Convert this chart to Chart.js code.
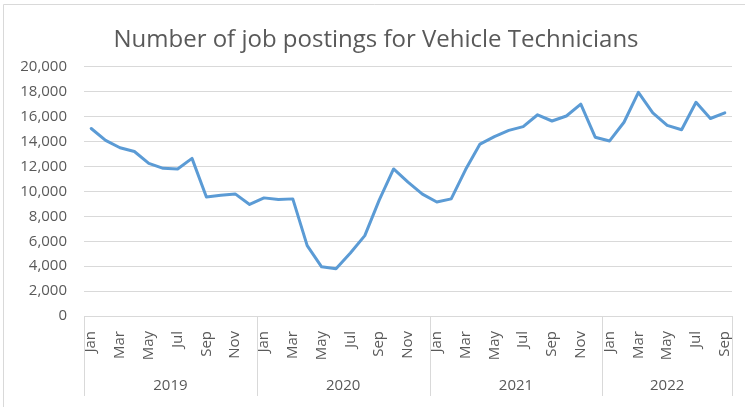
<!DOCTYPE html>
<html>
<head>
<meta charset="utf-8">
<script src="https://cdn.jsdelivr.net/npm/chart.js@4"></script>
<style>
  html, body { margin: 0; padding: 0; background: #fff; }
  #wrap { position: relative; width: 745px; height: 407px; }
</style>
</head>
<body>
<div id="wrap"><canvas id="chart1"></canvas></div>
<script>
const monthNames = ['Jan', 'Feb', 'Mar', 'Apr', 'May', 'Jun', 'Jul', 'Aug', 'Sep', 'Oct', 'Nov', 'Dec'];
const years = ['2019', '2020', '2021', '2022'];
const monthsPerYear = [12, 12, 12, 9];

const postings2019 = [15050, 14100, 13500, 13200, 12250, 11850, 11800, 12650, 9550, 9700, 9800, 8950];
const postings2020 = [9480, 9350, 9400, 5650, 3950, 3800, 5050, 6450, 9300, 11800, 10750, 9780];
const postings2021 = [9150, 9400, 11750, 13800, 14400, 14900, 15200, 16150, 15650, 16050, 17000, 14350];
const postings2022 = [14050, 15550, 17950, 16300, 15300, 14950, 17150, 15850, 16300];

const yTicks = [0, 2000, 4000, 6000, 8000, 10000, 12000, 14000, 16000, 18000, 20000];

// build month labels from the year groups
const labels = [];
monthsPerYear.forEach(n => { for (let i = 0; i < n; i++) labels.push(monthNames[i]); });
const values = [].concat(postings2019, postings2020, postings2021, postings2022);

const textColor = '#595959';
const gridColor = '#d9d9d9';
const fontFamily = "'Open Sans', 'Liberation Sans', sans-serif";

// outer chart border (left + top visible in the crop)
const borderPlugin = {
    id: 'outerBorder',
    beforeDraw(chart) {
        const c = chart.ctx;
        c.save();
        c.strokeStyle = gridColor;
        c.lineWidth = 1;
        c.beginPath();
        c.moveTo(3.5, chart.height);
        c.lineTo(3.5, 4.5);
        c.lineTo(chart.width, 4.5);
        c.stroke();
        c.restore();
    }
};

// second level of the category axis: year names and separators
const yearAxisPlugin = {
    id: 'yearAxis',
    afterDraw(chart) {
        const x = chart.scales.x;
        const c = chart.ctx;
        const half = (x.getPixelForValue(1) - x.getPixelForValue(0)) / 2;
        const top = chart.chartArea.bottom;
        const bottom = 396;
        c.save();
        c.strokeStyle = gridColor;
        c.lineWidth = 1;
        c.fillStyle = textColor;
        c.font = '15px ' + fontFamily;
        c.textAlign = 'center';
        c.textBaseline = 'middle';
        let start = 0;
        years.forEach((yr, k) => {
            const end = start + monthsPerYear[k] - 1;
            const left = x.getPixelForValue(start) - half;
            const right = x.getPixelForValue(end) + half;
            [left, right].forEach(px => {
                const p = Math.round(px) + 0.5;
                c.beginPath();
                c.moveTo(p, top);
                c.lineTo(p, bottom);
                c.stroke();
            });
            c.fillText(yr, (left + right) / 2, 386);
            start = end + 1;
        });
        c.restore();
    }
};

new Chart(document.getElementById('chart1').getContext('2d'), {
    type: 'line',
    data: {
        labels: labels,
        datasets: [{
            label: 'Job postings',
            data: values,
            borderColor: '#5b9bd5',
            borderWidth: 3,
            borderJoinStyle: 'round',
            borderCapStyle: 'round',
            pointRadius: 0,
            tension: 0,
            fill: false
        }]
    },
    options: {
        responsive: true,
        maintainAspectRatio: false,
        animation: false,
        layout: { padding: { left: 20, right: 13, top: 0, bottom: 0 } },
        plugins: {
            legend: { display: false },
            tooltip: { enabled: false },
            title: {
                display: true,
                text: 'Number of job postings for Vehicle Technicians',
                color: textColor,
                font: { family: fontFamily, size: 24, weight: 'normal' },
                padding: { top: 26, bottom: 12 }
            }
        },
        scales: {
            x: {
                offset: true,
                grid: { display: false, drawTicks: false },
                border: { display: false },
                ticks: {
                    autoSkip: false,
                    minRotation: 90,
                    maxRotation: 90,
                    padding: 15,
                    color: textColor,
                    font: { family: fontFamily, size: 15 },
                    callback: (v, i) => (i % 2 === 0 ? labels[i] : '')
                },
                afterFit: s => {
                    s.height = 91;
                    s.paddingLeft = 0;
                    s.paddingRight = 0;
                }
            },
            y: {
                min: 0,
                max: 20000,
                afterBuildTicks: s => { s.ticks = yTicks.map(v => ({ value: v })); },
                grid: { color: gridColor, lineWidth: 1, drawTicks: false },
                border: { display: false },
                ticks: {
                    padding: 17,
                    color: textColor,
                    font: { family: fontFamily, size: 15 },
                    callback: v => v.toLocaleString('en-US')
                },
                afterFit: s => { s.width = 64; }
            }
        }
    },
    plugins: [borderPlugin, yearAxisPlugin]
});
</script>
</body>
</html>
